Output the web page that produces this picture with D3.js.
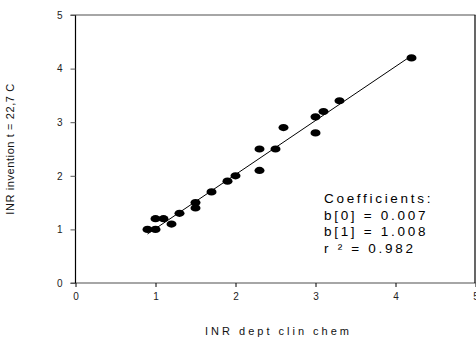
<!DOCTYPE html>
<html>
<head>
<meta charset="utf-8">
<script src="https://cdn.jsdelivr.net/npm/d3@7"></script>
<style>
  body { margin: 0; background: #fff; }
  svg { display: block; font-family: "Liberation Sans", Arial, sans-serif; }
</style>
</head>
<body>
<div id="chart-container"></div>
<script>
// data
var xValues = [0.9, 1.0, 1.0, 1.1, 1.2, 1.3, 1.5, 1.5, 1.7, 1.9, 2.0, 2.3, 2.3, 2.5, 2.6, 3.0, 3.0, 3.1, 3.3, 4.2];
var yValues = [1.0, 1.0, 1.2, 1.2, 1.1, 1.3, 1.4, 1.5, 1.7, 1.9, 2.0, 2.1, 2.5, 2.5, 2.9, 2.8, 3.1, 3.2, 3.4, 4.2];
var tickValues = [0, 1, 2, 3, 4, 5];
var coefficients = { b0: 0.007, b1: 1.008, r2: 0.982 };
var coefLines = ["Coefficients:", "b[0] = 0.007", "b[1] = 1.008", "r ² = 0.982"];

var width = 476, height = 338;
var margin = { top: 15, right: 0.5, bottom: 55, left: 75.5 };

var svg = d3.select("#chart-container").append("svg")
  .attr("width", width)
  .attr("height", height);

var x = d3.scaleLinear().domain([0, 5]).range([margin.left, width - margin.right]);
var y = d3.scaleLinear().domain([0, 5]).range([height - margin.bottom, margin.top]);

//Frame: top/bottom grey, left/right black
svg.append("line")
  .attr("x1", x(0) - 5).attr("x2", x(5))
  .attr("y1", y(5)).attr("y2", y(5))
  .attr("stroke", "#888").attr("stroke-width", 1.5);

svg.append("line")
  .attr("x1", x(0) - 5).attr("x2", x(5))
  .attr("y1", y(0)).attr("y2", y(0))
  .attr("stroke", "#888").attr("stroke-width", 1.5);

svg.append("line")
  .attr("x1", x(0)).attr("x2", x(0))
  .attr("y1", y(5)).attr("y2", y(0))
  .attr("stroke", "#000").attr("stroke-width", 1.2);

svg.append("line")
  .attr("x1", x(5) - 0.5).attr("x2", x(5) - 0.5)
  .attr("y1", y(5)).attr("y2", y(0))
  .attr("stroke", "#000").attr("stroke-width", 1.2);

//Y axis
var yAxis = d3.axisLeft(y).tickValues(tickValues).tickSize(5).tickPadding(8).tickFormat(d3.format("d"));
var gy = svg.append("g")
  .attr("transform", "translate(" + x(0) + ",0)")
  .call(yAxis);
gy.select(".domain").remove();
gy.selectAll("line").attr("stroke", "#555");
gy.selectAll("text").style("font-size", "10px").style("fill", "#222");

//X axis
var xAxis = d3.axisBottom(x).tickValues(tickValues).tickSize(4).tickPadding(6).tickFormat(d3.format("d"));
var gx = svg.append("g")
  .attr("transform", "translate(0," + y(0) + ")")
  .call(xAxis);
gx.select(".domain").remove();
gx.selectAll("line").attr("stroke", "#000");
gx.selectAll("text").style("font-size", "10px").style("fill", "#222");

//Axis titles
svg.append("text")
  .attr("x", (x(0) + x(5)) / 2 + 3)
  .attr("y", 335)
  .attr("text-anchor", "middle")
  .style("font-size", "11px")
  .style("letter-spacing", "3px")
  .style("fill", "#111")
  .text("INR dept clin chem");

svg.append("text")
  .attr("transform", "translate(14," + ((y(0) + y(5)) / 2) + ") rotate(-90)")
  .attr("text-anchor", "middle")
  .style("font-size", "11px")
  .style("letter-spacing", "0.6px")
  .style("fill", "#111")
  .text("INR invention  t = 22,7 C");

//Regression line
var xExt = d3.extent(xValues);
svg.append("line")
  .attr("x1", x(xExt[0])).attr("y1", y(coefficients.b0 + coefficients.b1 * xExt[0]))
  .attr("x2", x(xExt[1])).attr("y2", y(coefficients.b0 + coefficients.b1 * xExt[1]))
  .attr("stroke", "#000").attr("stroke-width", 1);

//Points
var points = xValues.map(function(d, i) { return { x: d, y: yValues[i] }; });
svg.selectAll(".dot")
  .data(points)
  .enter().append("ellipse")
  .attr("class", "dot")
  .attr("cx", function(d) { return x(d.x); })
  .attr("cy", function(d) { return y(d.y); })
  .attr("rx", 5)
  .attr("ry", 3.6)
  .attr("fill", "#000");

//Coefficients box
svg.append("g")
  .selectAll("text")
  .data(coefLines)
  .enter().append("text")
  .attr("x", 324)
  .attr("y", function(d, i) { return 203 + i * 16.7; })
  .style("font-size", "13.5px")
  .style("letter-spacing", "2.7px")
  .style("fill", "#000")
  .text(function(d) { return d; });
</script>
</body>
</html>
